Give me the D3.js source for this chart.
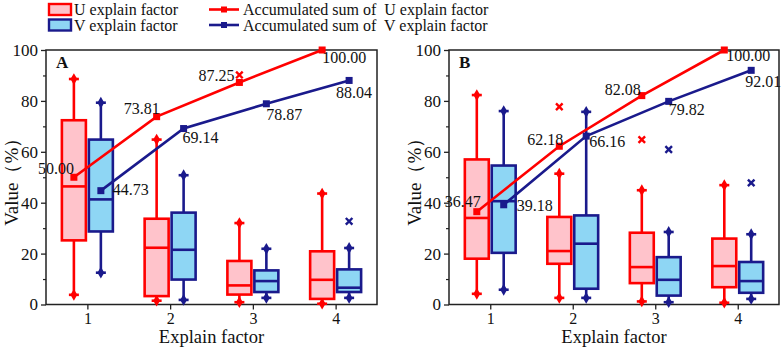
<!DOCTYPE html>
<html><head><meta charset="utf-8">
<script src="https://cdn.jsdelivr.net/npm/d3@7"></script>
<style>body{margin:0;background:#fff}svg{display:block}text{font-family:"Liberation Serif","Times New Roman",serif;fill:#111}</style>
</head><body><svg id="c" width="782" height="348"></svg>
<script>
// ---------- data ----------
const factors = [1, 2, 3, 4];
const xTicks = [1, 2, 3, 4];
const yTicks = [0, 20, 40, 60, 80, 100];
const panelNames = ["A", "B"];
const seriesNames = ["U explain factor", "V explain factor"];
const lineNames = ["Accumulated sum of  U explain factor", "Accumulated sum of  V explain factor"];
// box stats: [min, q1, median, q3, max]
const uBoxA = [[3.8, 25.2, 46.4, 72.4, 88.6], [1.5, 3.3, 22.3, 33.7, 64.8], [0.9, 3.9, 7.5, 17.1, 32.0], [0.3, 2.2, 9.7, 20.9, 43.6]];
const vBoxA = [[12.5, 28.7, 41.3, 64.8, 79.3], [1.8, 9.8, 21.5, 36.1, 50.8], [2.6, 4.9, 9.2, 13.4, 21.9], [2.6, 4.9, 6.6, 13.8, 22.2]];
const uOutA = [[], [], [90.2], []];
const vOutA = [[], [], [], [32.7]];
const uSumA = [50.00, 73.81, 87.25, 100.00];
const vSumA = [44.73, 69.14, 78.87, 88.04];
const uBoxB = [[4.2, 18.0, 34.0, 57.0, 82.3], [2.6, 16.0, 21.0, 34.4, 51.4], [1.2, 8.4, 14.7, 28.2, 44.9], [0.7, 6.8, 15.1, 25.9, 46.9]];
const vBoxB = [[5.8, 20.3, 40.6, 54.6, 76.0], [2.6, 6.2, 23.9, 35.0, 75.7], [0.9, 3.5, 9.7, 18.6, 28.5], [2.2, 4.6, 9.2, 16.7, 27.6]];
const uOutB = [[], [77.7], [64.8], []];
const vOutB = [[], [], [60.9], [47.8]];
const uSumB = [36.47, 62.18, 82.08, 100.00];
const vSumB = [39.18, 66.16, 79.82, 92.01];

// ---------- layout / style ----------
const RED = "#ff0000", NAVY = "#1a1a8c", PINK = "#ffc3cb", SKY = "#8ed6f4";
const panels = [
  {name: panelNames[0], left: 46, right: 377, u: uBoxA, v: vBoxA, uo: uOutA, vo: vOutA, us: uSumA, vs: vSumA,
   uLab: [["end", 0, -9], ["end", 3, -8], ["end", -5, -7], ["start", 0, 7]],
   vLab: [["start", 12, -1], ["start", -1, 9], ["start", 0, 11], ["start", -13, 12]]},
  {name: panelNames[1], left: 449, right: 779, u: uBoxB, v: vBoxB, uo: uOutB, vo: vOutB, us: uSumB, vs: vSumB,
   uLab: [["end", 4, -10], ["end", 4, -7], ["end", -1, -6], ["start", 2, 5]],
   vLab: [["start", 13, 1], ["start", 3, 5], ["start", 0, 8], ["start", -6, 11]]}
];
const plotTop = 50, plotBottom = 304.5;
const svg = d3.select("#c");

panels.forEach(p => {
  const x = d3.scaleLinear().domain([0.5, 4.5]).range([p.left, p.right]);
  const y = d3.scaleLinear().domain([0, 100]).range([plotBottom, plotTop]);
  const unit = x(1) - x(0);
  const off = 0.163 * unit, bw = 0.29 * unit;
  const g = svg.append("g");

  // frame
  g.append("rect").attr("x", p.left).attr("y", plotTop).attr("width", p.right - p.left).attr("height", plotBottom - plotTop)
    .attr("fill", "none").attr("stroke", "#222").attr("stroke-width", 1.5);

  // axes
  const ya = d3.axisLeft(y).tickValues(yTicks).tickSize(5).tickPadding(3);
  const yg = g.append("g").attr("transform", `translate(${p.left},0)`).call(ya);
  yg.select(".domain").remove();
  yg.selectAll("line").attr("stroke", "#222").attr("stroke-width", 1.3);
  yg.selectAll("text").style("font-size", "17px").style("font-family", "Liberation Serif").attr("fill", "#111");
  const ym = d3.axisLeft(y).tickValues([10, 30, 50, 70, 90]).tickSize(3).tickFormat("");
  const ymg = g.append("g").attr("transform", `translate(${p.left},0)`).call(ym);
  ymg.select(".domain").remove();
  ymg.selectAll("line").attr("stroke", "#222").attr("stroke-width", 1.2);

  const xa = d3.axisBottom(x).tickValues(xTicks).tickSize(5).tickPadding(3).tickFormat(d3.format("d"));
  const xg = g.append("g").attr("transform", `translate(0,${plotBottom})`).call(xa);
  xg.select(".domain").remove();
  xg.selectAll("line").attr("stroke", "#222").attr("stroke-width", 1.3);
  xg.selectAll("text").style("font-size", "16px").style("font-family", "Liberation Serif").attr("fill", "#111");

  g.append("text").attr("x", (p.left + p.right) / 2).attr("y", 343).attr("text-anchor", "middle")
    .style("font-size", "18.5px").text("Explain factor");
  g.append("text").attr("transform", `translate(${p.left - 35},${(plotTop + plotBottom) / 2}) rotate(-90)`)
    .attr("text-anchor", "middle").attr("dy", "0.35em").style("font-size", "19px").text("Value（%）");
  g.append("text").attr("x", p.left + 10).attr("y", 68).style("font-size", "17px").style("font-weight", "bold").text(p.name);

  // boxes
  const series = [
    {box: p.u, out: p.uo, dx: -off, stroke: RED, fill: PINK},
    {box: p.v, out: p.vo, dx: off, stroke: NAVY, fill: SKY}
  ];
  series.forEach(s => {
    factors.forEach((f, i) => {
      const [mn, q1, md, q3, mx] = s.box[i];
      const cx = x(f) + s.dx;
      const bg = g.append("g");
      bg.append("line").attr("x1", cx).attr("x2", cx).attr("y1", y(mx)).attr("y2", y(mn))
        .attr("stroke", s.stroke).attr("stroke-width", 2.6);
      [mn, mx].forEach(v => {
        bg.append("line").attr("x1", cx - 5).attr("x2", cx + 5).attr("y1", y(v)).attr("y2", y(v))
          .attr("stroke", s.stroke).attr("stroke-width", 2.6);
        bg.append("path").attr("d", d3.symbol(d3.symbolDiamond, 40)()).attr("transform", `translate(${cx},${y(v)})`)
          .attr("fill", s.stroke);
      });
      bg.append("rect").attr("x", cx - bw / 2).attr("y", y(q3)).attr("width", bw).attr("height", y(q1) - y(q3))
        .attr("fill", s.fill).attr("stroke", s.stroke).attr("stroke-width", 2.6);
      bg.append("line").attr("x1", cx - bw / 2).attr("x2", cx + bw / 2).attr("y1", y(md)).attr("y2", y(md))
        .attr("stroke", s.stroke).attr("stroke-width", 2.6);
      s.out[i].forEach(v => {
        bg.append("path").attr("d", d3.symbol(d3.symbolX, 30)()).attr("transform", `translate(${cx},${y(v)})`)
          .attr("stroke", s.stroke).attr("stroke-width", 2.4).attr("fill", "none");
      });
    });
  });

  // accumulated lines
  const lines = [
    {vals: p.us, dx: -off, color: RED, lab: p.uLab},
    {vals: p.vs, dx: off, color: NAVY, lab: p.vLab}
  ];
  lines.forEach(l => {
    const pts = factors.map((f, i) => [x(f) + l.dx, y(l.vals[i])]);
    g.append("path").attr("d", d3.line()(pts)).attr("fill", "none").attr("stroke", l.color).attr("stroke-width", 2.6);
    pts.forEach(pt => g.append("rect").attr("x", pt[0] - 3.5).attr("y", pt[1] - 3.5).attr("width", 7).attr("height", 7).attr("fill", l.color));
  });
  lines.forEach(l => {
    factors.forEach((f, i) => {
      const [anc, ddx, ddy] = l.lab[i];
      g.append("text").attr("x", x(f) + l.dx + ddx).attr("y", y(l.vals[i]) + ddy).attr("dy", "0.35em")
        .attr("text-anchor", anc).style("font-size", "16px").text(l.vals[i].toFixed(2));
    });
  });
});

// ---------- legend ----------
const lg = svg.append("g");
[[PINK, RED], [SKY, NAVY]].forEach((c, i) => {
  const cy = 9.5 + i * 15.5;
  lg.append("rect").attr("x", 49).attr("y", cy - 5.5).attr("width", 22).attr("height", 11)
    .attr("fill", c[0]).attr("stroke", c[1]).attr("stroke-width", 2.4);
  lg.append("text").attr("x", 74).attr("y", cy).attr("dy", "0.35em").style("font-size", "16px").text(seriesNames[i]);
  lg.append("line").attr("x1", 209).attr("x2", 239).attr("y1", cy).attr("y2", cy).attr("stroke", c[1]).attr("stroke-width", 2.6);
  lg.append("rect").attr("x", 221).attr("y", cy - 3).attr("width", 6).attr("height", 6).attr("fill", c[1]);
  lg.append("text").attr("x", 243).attr("y", cy).attr("dy", "0.35em").style("font-size", "16px")
    .style("white-space", "pre").text(lineNames[i]);
});
</script></body></html>
